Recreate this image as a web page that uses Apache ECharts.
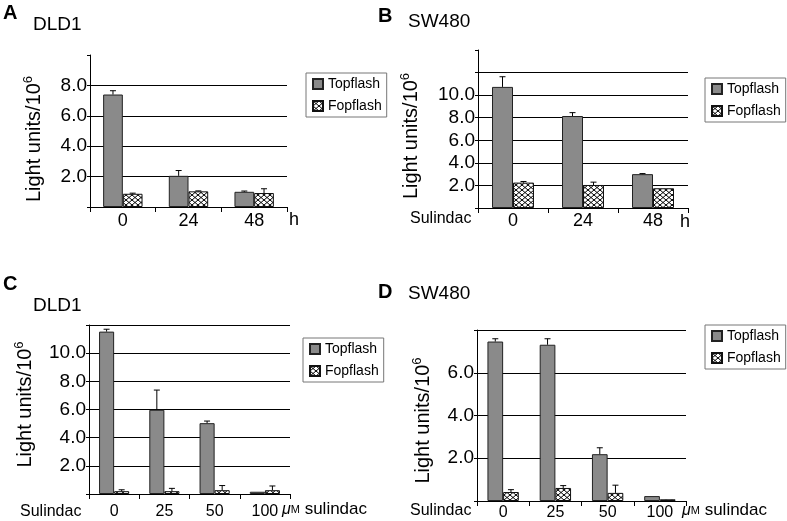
<!DOCTYPE html>
<html>
<head>
<meta charset="utf-8">
<script src="https://cdn.jsdelivr.net/npm/echarts@6/dist/echarts.min.js"></script>
<style>
html,body{margin:0;padding:0;background:#fff;}
#chart{width:787px;height:521px;}
</style>
</head>
<body>
<div id="chart"></div>
<script>
// ---- data ----
const catsTime = ['0', '24', '48'];
const catsDose = ['0', '25', '50', '100'];
const seriesNames = ['Topflash', 'Fopflash'];

// Panel A: DLD1, time course
const aTop = [7.4, 2.05, 1.0];
const aTopErr = [0.25, 0.35, 0.05];
const aFop = [0.87, 1.03, 0.92];
const aFopErr = [0.04, 0.03, 0.28];

// Panel B: SW480, time course
const bTop = [10.73, 8.15, 3.0];
const bTopErr = [0.9, 0.3, 0.05];
const bFop = [2.25, 2.04, 1.75];
const bFopErr = [0.1, 0.25, 0];

// Panel C: DLD1, dose
const cTop = [11.53, 5.98, 5.03, 0.16];
const cTopErr = [0.17, 1.4, 0.15, 0];
const cFop = [0.2, 0.2, 0.27, 0.27];
const cFopErr = [0.1, 0.2, 0.33, 0.3];

// Panel D: SW480, dose
const dTop = [7.46, 7.31, 2.19, 0.23];
const dTopErr = [0.13, 0.28, 0.3, 0];
const dFop = [0.42, 0.61, 0.38, 0.08];
const dFopErr = [0.11, 0.11, 0.36, 0];

// y axis ranges and tick labels that are hidden
const yMax = [10, 14, 12, 8];
const yHiddenLabels = [[0, 10], [0, 12, 14], [0, 12], [0, 8]];

// ---- styles ----
const FONT = 'Liberation Sans, Arial, Helvetica, sans-serif';
function hatch() {
  const c = document.createElement('canvas');
  c.width = 6; c.height = 5;
  const g = c.getContext('2d');
  g.fillStyle = '#fff'; g.fillRect(0, 0, 6, 5);
  g.strokeStyle = '#000'; g.lineWidth = 1;
  g.beginPath();
  g.moveTo(0, 0); g.lineTo(6, 5);
  g.moveTo(6, 0); g.lineTo(0, 5);
  g.stroke();
  return c;
}
const hatchPattern = { image: hatch(), repeat: 'repeat' };
const topStyle = { color: '#8a8a8a', borderColor: '#222', borderWidth: 1 };
const fopStyle = { color: hatchPattern, borderColor: '#111', borderWidth: 1 };

const panels = [
  { cats: catsTime, top: aTop, topErr: aTopErr, fop: aFop, fopErr: aFopErr,
    grid: { left: 90, top: 55, width: 197, height: 152 }, showMax: false, nameGap: 44, namePad: [0, 16, 0, 0],
    xFont: 18, xMargin: 5, legend: { left: 306, top: 73 } },
  { cats: catsTime, top: bTop, topErr: bTopErr, fop: bFop, fopErr: bFopErr,
    grid: { left: 478, top: 50, width: 210, height: 158 }, showMax: false, nameGap: 55, namePad: [0, 14, 0, 0],
    xFont: 18, xMargin: 4, legend: { left: 705, top: 78 } },
  { cats: catsDose, top: cTop, topErr: cTopErr, fop: cFop, fopErr: cFopErr,
    grid: { left: 89, top: 325, width: 201, height: 169 }, showMax: true, nameGap: 52, namePad: [0, 0, 0, 10],
    xFont: 16, xMargin: 10, legend: { left: 303, top: 338 } },
  { cats: catsDose, top: dTop, topErr: dTopErr, fop: dFop, fopErr: dFopErr,
    grid: { left: 477, top: 330, width: 209, height: 171 }, showMax: true, nameGap: 42, namePad: [0, 10, 0, 0],
    xFont: 16, xMargin: 4, legend: { left: 705, top: 325 } }
];

function renderErr(params, api) {
  const e = api.value(2);
  if (!(e > 0)) return null;
  const i = api.value(0), v = api.value(1), side = api.value(3);
  const band = api.size([1, 0])[0];
  const base = api.coord([i, v]);
  const tip = api.coord([i, v + e]);
  const x = base[0] + side * band * 0.15;
  const cap = 3;
  return {
    type: 'group',
    children: [
      { type: 'line', shape: { x1: x, y1: base[1], x2: x, y2: tip[1] }, style: { stroke: '#000', lineWidth: 1 } },
      { type: 'line', shape: { x1: x - cap, y1: tip[1], x2: x + cap, y2: tip[1] }, style: { stroke: '#000', lineWidth: 1 } }
    ]
  };
}

const option = {
  backgroundColor: '#fff',
  animation: false,
  grid: [], xAxis: [], yAxis: [], series: [], legend: [],
  graphic: []
};

panels.forEach((p, k) => {
  option.grid.push(Object.assign({ containLabel: false }, p.grid));
  option.xAxis.push({
    type: 'category', gridIndex: k, data: p.cats,
    axisLine: { lineStyle: { color: '#000', width: 1 } },
    axisTick: { show: true, length: 5, lineStyle: { color: '#000' } },
    axisLabel: { color: '#000', fontFamily: FONT, fontSize: p.xFont, margin: p.xMargin }
  });
  const hidden = yHiddenLabels[k];
  option.yAxis.push({
    type: 'value', gridIndex: k, min: 0, max: yMax[k], interval: 2,
    name: 'Light units/10{sup|6}', nameLocation: 'middle', nameGap: p.nameGap, nameRotate: 90,
    nameTextStyle: { color: '#000', fontFamily: FONT, fontSize: 20, padding: p.namePad,
      rich: { sup: { fontSize: 13, verticalAlign: 'top', padding: [0, 0, 11, 0], fontFamily: FONT, color: '#000' } } },
    axisLine: { show: true, lineStyle: { color: '#000', width: 1 } },
    axisTick: { show: true, length: 3, lineStyle: { color: '#000' } },
    axisLabel: { color: '#000', fontFamily: FONT, fontSize: 19, margin: 3,
      formatter: v => hidden.indexOf(v) >= 0 ? '' : v.toFixed(1) },
    splitLine: { show: true, showMinLine: false, showMaxLine: p.showMax, lineStyle: { color: '#000', width: 1 } }
  });
  option.series.push({
    name: seriesNames[0], type: 'bar', xAxisIndex: k, yAxisIndex: k, data: p.top,
    barWidth: '30%', barGap: 0, itemStyle: topStyle
  });
  option.series.push({
    name: seriesNames[1], type: 'bar', xAxisIndex: k, yAxisIndex: k, data: p.fop,
    barWidth: '30%', barGap: 0, itemStyle: fopStyle
  });
  option.series.push({
    type: 'custom', xAxisIndex: k, yAxisIndex: k, renderItem: renderErr, z: 5,
    encode: { x: 0, y: 1 },
    data: p.top.map((v, i) => [i, v, p.topErr[i], -1]).concat(p.fop.map((v, i) => [i, v, p.fopErr[i], 1]))
  });
  option.legend.push({
    data: seriesNames, orient: 'vertical', left: p.legend.left, top: p.legend.top,
    padding: [3, 5, 3, 6], itemGap: 6, itemWidth: 10, itemHeight: 10, icon: 'rect',
    borderColor: '#777', borderWidth: 1, selectedMode: false,
    textStyle: { color: '#000', fontFamily: FONT, fontSize: 14, lineHeight: 16 }
  });
});

function txt(left, top, text, size, weight, extra) {
  return Object.assign({ type: 'text', left: left, top: top,
    style: { text: text, fill: '#000', font: (weight || 'normal') + ' ' + size + 'px ' + FONT } }, extra || {});
}
function richTxt(left, top, text) {
  return { type: 'text', left: left, top: top,
    style: { text: text, fill: '#000', fontFamily: FONT, fontSize: 17,
      rich: { mu: { fontStyle: 'italic', fontSize: 16, fontFamily: FONT }, m: { fontSize: 11, fontFamily: FONT } } } };
}

option.graphic = [
  txt(3, 3, 'A', 20, 'bold'),
  txt(33, 15, 'DLD1', 19),
  txt(378, 6, 'B', 20, 'bold'),
  txt(408, 12, 'SW480', 19),
  txt(289, 211, 'h', 18),
  txt(680, 213, 'h', 18),
  txt(410, 211, 'Sulindac', 16),
  txt(3, 274, 'C', 20, 'bold'),
  txt(33, 296, 'DLD1', 19),
  txt(378, 282, 'D', 20, 'bold'),
  txt(408, 284, 'SW480', 19),
  txt(20, 504, 'Sulindac', 16),
  txt(410, 503, 'Sulindac', 16),
  richTxt(282, 501, '{mu|μ}{m|M} sulindac'),
  richTxt(682, 502, '{mu|μ}{m|M} sulindac')
];

const chart = echarts.init(document.getElementById('chart'), null, { renderer: 'canvas' });
chart.setOption(option);
</script>
</body>
</html>
